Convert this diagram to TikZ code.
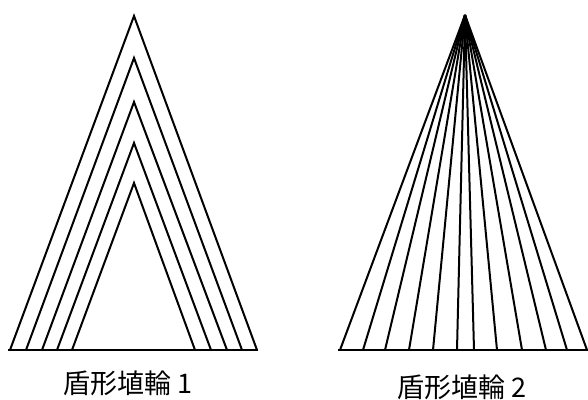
\documentclass[tikz,border=0pt]{standalone}
\usepackage{fontspec}
\newfontfamily\cjk{Noto Sans CJK JP}
\begin{document}
\begin{tikzpicture}[x=1pt,y=-1pt,line width=2pt,
  edge/.style={line join=miter,black},
  lbl/.style={font=\cjk\fontsize{27}{30}\selectfont,inner sep=0pt}]
\useasboundingbox (0,0) rectangle (588,399);
% left figure
\draw[edge] (8,350) -- (258,350);
\foreach \a/\l/\r in {16/10/257, 58/26/242, 102/42/227, 143/57/211, 183/72/195}
  \draw[edge] (\l,350) -- (134,\a) -- (\r,350);
% right figure
\draw[edge] (338,350) -- (588,350);
\foreach \f in {340,363,385,409,433,457,474,497,522,546,567,587}
  \draw[edge] (465,15) -- (\f,350);
\node[lbl] (t1) at (128,383) {盾形埴輪 1};
\node[lbl] (t2) at (462,387) {盾形埴輪 2};
\end{tikzpicture}
\end{document}
